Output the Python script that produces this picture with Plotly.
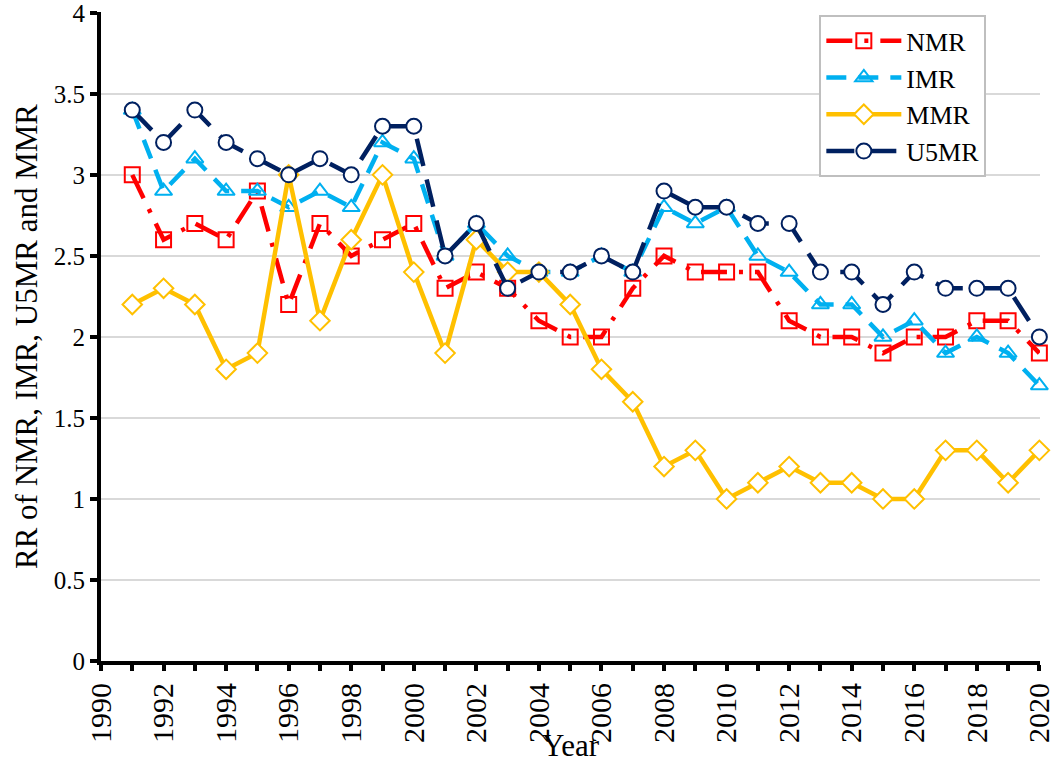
import plotly.graph_objects as go

years = list(range(1991, 2021))
nmr = [3.0, 2.6, 2.7, 2.6, 2.9, 2.2, 2.7, 2.5, 2.6, 2.7, 2.3, 2.4, 2.3, 2.1, 2.0,
       2.0, 2.3, 2.5, 2.4, 2.4, 2.4, 2.1, 2.0, 2.0, 1.9, 2.0, 2.0, 2.1, 2.1, 1.9]
imr = [3.4, 2.9, 3.1, 2.9, 2.9, 2.8, 2.9, 2.8, 3.2, 3.1, 2.5, 2.7, 2.5, 2.4, 2.4,
       2.5, 2.4, 2.8, 2.7, 2.8, 2.5, 2.4, 2.2, 2.2, 2.0, 2.1, 1.9, 2.0, 1.9, 1.7]
mmr = [2.2, 2.3, 2.2, 1.8, 1.9, 3.0, 2.1, 2.6, 3.0, 2.4, 1.9, 2.6, 2.4, 2.4, 2.2,
       1.8, 1.6, 1.2, 1.3, 1.0, 1.1, 1.2, 1.1, 1.1, 1.0, 1.0, 1.3, 1.3, 1.1, 1.3]
u5mr = [3.4, 3.2, 3.4, 3.2, 3.1, 3.0, 3.1, 3.0, 3.3, 3.3, 2.5, 2.7, 2.3, 2.4, 2.4,
        2.5, 2.4, 2.9, 2.8, 2.8, 2.7, 2.7, 2.4, 2.4, 2.2, 2.4, 2.3, 2.3, 2.3, 2.0]
x_ticks = list(range(1990, 2021))
x_labels = [str(v) if v % 2 == 0 else "" for v in x_ticks]
y_ticks = [0, 0.5, 1, 1.5, 2, 2.5, 3, 3.5, 4]

series = [
    ("NMR", nmr, "#FF0000", "26px,12px,4px,12px", "square-open"),
    ("IMR", imr, "#00B0F0", "20px,12px", "triangle-up-open"),
    ("MMR", mmr, "#FFC000", "solid", "diamond"),
    ("U5MR", u5mr, "#002060", "28px,14px", "circle"),
]

fig = go.Figure()
for name, vals, color, dash, sym in series:
    fig.add_trace(go.Scatter(
        x=years, y=vals, name=name, mode="lines+markers", cliponaxis=False,
        line=dict(color=color, width=4.5, dash=dash),
        marker=dict(symbol=sym, size=15,
                    color="white" if not sym.endswith("open") else color,
                    line=dict(color=color, width=2)),
    ))

font_family = "Liberation Serif, Times New Roman, serif"
fig.update_layout(
    width=1054, height=763,
    margin=dict(l=101, r=14, t=12, b=102, autoexpand=False),
    paper_bgcolor="white", plot_bgcolor="white",
    font=dict(family=font_family, color="black", size=24),
    showlegend=True,
    legend=dict(x=0.765, y=0.995, xanchor="left", yanchor="top",
                bordercolor="#BFBFBF", borderwidth=2, bgcolor="white",
                font=dict(size=26), tracegroupgap=0, itemwidth=75),
)
fig.update_xaxes(
    range=[1990, 2020.02], tickmode="array", tickvals=x_ticks,
    ticktext=x_labels, tickangle=-90, ticklabeloverflow="allow",
    showline=True, linecolor="black", linewidth=4, automargin=False,
    ticks="outside", ticklen=6, tickwidth=4, tickcolor="black",
    showgrid=False, zeroline=False,
    title=dict(text="Year", font=dict(size=31), standoff=6),
    tickfont=dict(size=30, family=font_family),
)
fig.update_yaxes(
    range=[0, 4.005], tickmode="array", tickvals=y_ticks,
    ticktext=[f"{v:g}" for v in y_ticks], ticklabeloverflow="allow",
    showline=True, linecolor="black", linewidth=4, automargin=False,
    ticks="outside", ticklen=7, tickwidth=4, tickcolor="black",
    showgrid=True, gridcolor="#D9D9D9", gridwidth=2, zeroline=False,
    title=dict(text="RR of NMR, IMR, U5MR and MMR", font=dict(size=31), standoff=8),
    tickfont=dict(size=25, family=font_family),
)

fig.write_html("out.html", config={"displayModeBar": False},
               post_script="document.body.style.margin='0';")
